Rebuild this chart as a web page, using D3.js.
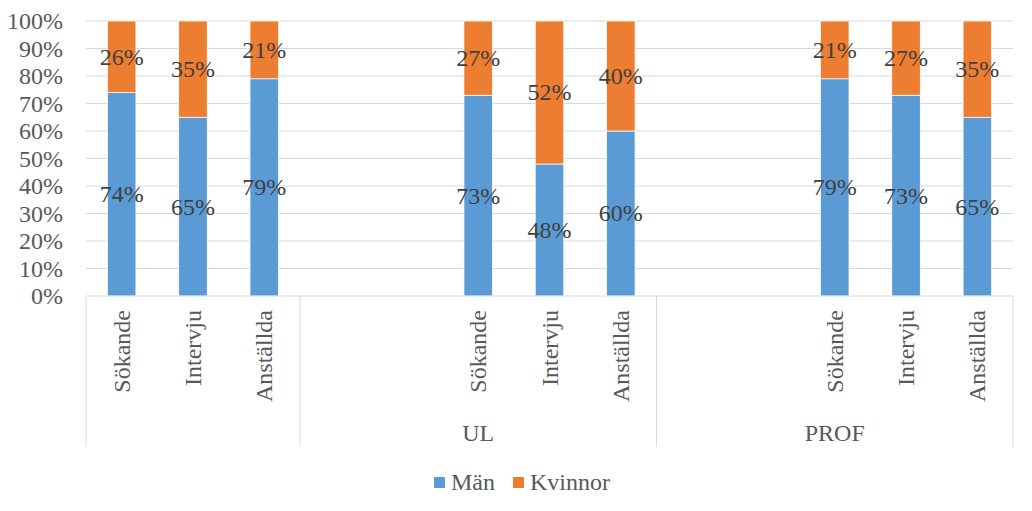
<!DOCTYPE html>
<html><head><meta charset="utf-8">
<script src="https://cdn.jsdelivr.net/npm/d3@7"></script>
<style>
body{margin:0;background:#fff;}
svg text{font-family:"Liberation Serif" !important;}
</style></head>
<body><svg id="c" width="1032" height="511" font-family="Liberation Serif"></svg>
<script>
// categories (blank slots act as spacers, as in the original)
const stages = ["Sökande","Intervju","Anställda","","","Sökande","Intervju","Anställda","","","Sökande","Intervju","Anställda"];
const groupLabels = ["", "UL", "PROF"];
const groupSizes = [3, 5, 5];
const man     = [74, 65, 79, null, null, 73, 48, 60, null, null, 79, 73, 65];
const kvinnor = [26, 35, 21, null, null, 27, 52, 40, null, null, 21, 27, 35];
const seriesNames = ["Män", "Kvinnor"];
const seriesColors = ["#5b9bd5", "#ed7d31"];
const yTicks = [0,10,20,30,40,50,60,70,80,90,100];

const FONT = "Liberation Serif";
const svg = d3.select("#c");
const L = 86, R = 1013, T = 21, B = 296;
const idx = d3.range(stages.length);
const slot = d3.scaleBand().domain(idx).range([L, R]).padding(0);
const x = d3.scaleBand().domain(idx).range([L, R]).paddingInner(0.6).paddingOuter(0.3);
const y = d3.scaleLinear().domain([0, 100]).range([B, T]);

// gridlines
svg.append("g").selectAll("line").data(yTicks.filter(d => d > 0)).join("line")
  .attr("x1", L).attr("x2", R).attr("y1", d => y(d)).attr("y2", d => y(d))
  .attr("stroke", "#d9d9d9").attr("stroke-width", 1);

// y axis labels
const yAxis = d3.axisLeft(y).tickValues(yTicks).tickFormat(d => d + "%").tickSize(0).tickPadding(0);
const ya = svg.append("g").attr("transform", `translate(${L - 23},0)`).call(yAxis);
ya.attr("font-family", FONT).attr("font-size", null);
ya.select(".domain").remove();
ya.selectAll("text").attr("font-family", FONT).attr("font-size", 24).attr("fill", "#595959").attr("dy", "0.33em");

// bars
const rows = idx.filter(i => man[i] != null).map(i => ({i, m: man[i], k: kvinnor[i]}));
const stack = d3.stack().keys(["m", "k"])(rows);
stack.forEach((s, si) => {
  svg.append("g").selectAll("rect").data(s).join("rect")
    .attr("x", d => x(d.data.i)).attr("width", x.bandwidth())
    .attr("y", d => y(d[1])).attr("height", d => y(d[0]) - y(d[1]))
    .attr("fill", seriesColors[si]).attr("stroke", "#fff").attr("stroke-width", 0.75);
});
// data labels
stack.forEach((s, si) => {
  svg.append("g").selectAll("text").data(s).join("text")
    .attr("font-family", FONT)
    .attr("x", d => x(d.data.i) + x.bandwidth() / 2)
    .attr("y", d => y((d[0] + d[1]) / 2)).attr("dy", "0.33em")
    .attr("text-anchor", "middle").attr("font-size", 24).attr("fill", "#404040")
    .text(d => (d[1] - d[0]) + "%");
});

// x axis line
svg.append("line").attr("x1", L).attr("x2", R).attr("y1", B).attr("y2", B)
  .attr("stroke", "#d9d9d9").attr("stroke-width", 1);

// category labels (rotated)
svg.append("g").selectAll("text").data(idx.filter(i => stages[i])).join("text")
  .attr("font-family", FONT)
  .attr("transform", i => `translate(${slot(i) + slot.bandwidth() / 2 + 8},${B + 14}) rotate(-90)`)
  .attr("text-anchor", "end").attr("font-size", 24).attr("fill", "#595959")
  .text(i => stages[i]);

// group dividers & labels
let start = 0;
const bounds = [0];
groupSizes.forEach(n => { start += n; bounds.push(start); });
svg.append("g").selectAll("line").data(bounds).join("line")
  .attr("x1", b => b < stages.length ? slot(b) : R).attr("x2", b => b < stages.length ? slot(b) : R)
  .attr("y1", B).attr("y2", 447).attr("stroke", "#d9d9d9").attr("stroke-width", 1);
svg.append("g").selectAll("text").data(groupLabels).join("text")
  .attr("font-family", FONT)
  .attr("x", (g, gi) => {
    const a = slot(bounds[gi]);
    const b = bounds[gi + 1] < stages.length ? slot(bounds[gi + 1]) : R;
    return (a + b) / 2;
  })
  .attr("y", 441).attr("text-anchor", "middle").attr("font-size", 24).attr("fill", "#595959")
  .text(g => g);

// legend
const lg = svg.append("g");
const lx = [434, 513];
seriesNames.forEach((n, i) => {
  lg.append("rect").attr("x", lx[i]).attr("y", 477).attr("width", 11).attr("height", 11).attr("fill", seriesColors[i]);
  lg.append("text").attr("font-family", FONT).attr("x", lx[i] + 17).attr("y", 490)
    .attr("font-size", 24).attr("fill", "#595959").text(n);
});
</script></body></html>
